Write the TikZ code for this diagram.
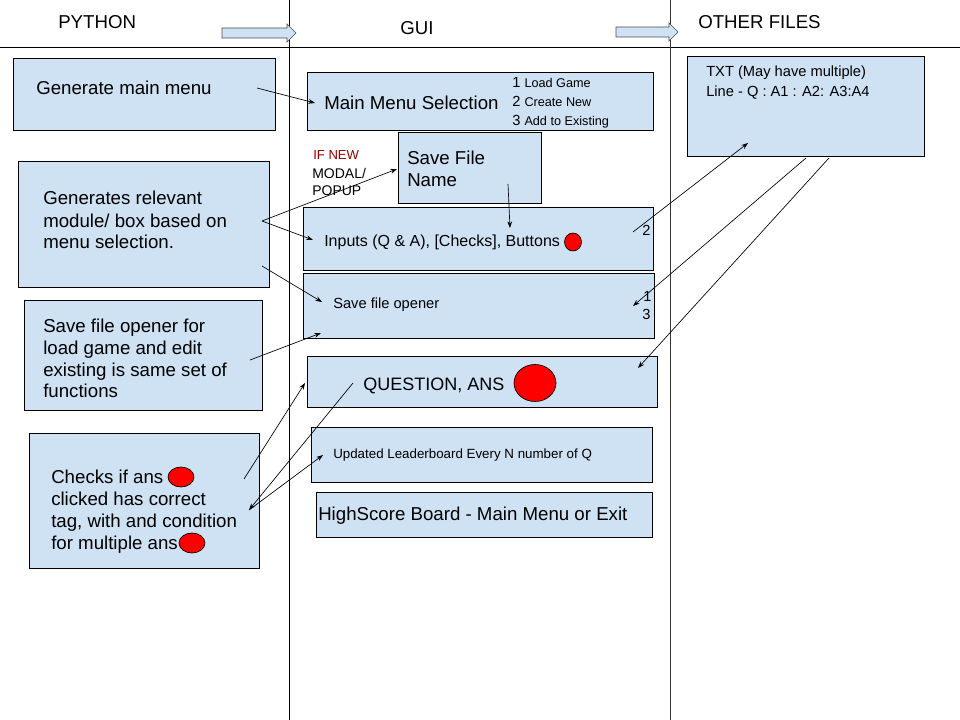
\documentclass[tikz,border=0pt]{standalone}
\usepackage{fontspec}
\setmainfont{Liberation Sans}
\usetikzlibrary{arrows.meta,fit,shapes.geometric}
\definecolor{boxblue}{HTML}{CFE2F3}
\definecolor{ifred}{HTML}{990000}
\newcommand{\fs}[2]{\fontsize{#1}{#2}\selectfont}
\begin{document}
\begin{tikzpicture}[x=0.75pt,y=-0.75pt,
  box/.style={draw=black, line width=0.75pt, fill=boxblue, inner sep=0pt},
  conn/.style={draw=black, line width=0.5pt, -{Stealth[length=5pt,width=3.6pt]}},
  plain/.style={draw=black, line width=0.5pt},
  txt/.style={anchor=base west, inner sep=0pt, align=left},
  dot/.style={ellipse, draw=black, line width=0.5pt, fill=red, inner sep=0pt},
  blockarrow/.style={draw=black!70, line width=0.5pt, fill=boxblue}]
\useasboundingbox (0,0) rectangle (960,720);
\fill[white] (0,0) rectangle (960,720);

% frame lines
\draw[line width=0.75pt] (0,48) -- (960,48);
\draw[line width=0.75pt] (289,0) -- (289,720);
\draw[line width=0.75pt, black!80] (670,0) -- (670,720);

% headers
\node[txt, font=\fs{14}{16}] (hpy) at (58,29) {PYTHON};
\node[txt, font=\fs{14}{16}] (hgui) at (400,35) {GUI};
\node[txt, font=\fs{14}{16}] (hoth) at (698,29) {OTHER FILES};
\path[blockarrow] (222,28) -- (287,28) -- (287,24) -- (296,33) -- (287,42) -- (287,38) -- (222,38) -- cycle;
\path[blockarrow] (616,27) -- (669,27) -- (669,23) -- (678,32) -- (669,41) -- (669,37) -- (616,37) -- cycle;

% left column boxes (multi-line texts: base = last line's baseline)
\node[box, fit={(13,59) (275,131)}] (gen) {};
\node[txt, font=\fs{14}{16.5}] (gent) at (36,94.5) {Generate main menu};
\node[box, fit={(18,162) (269,288)}] (rel) {};
\node[txt, font=\fs{14}{16.5}] (relt) at (43,249) {Generates relevant\\module/ box based on\\menu selection.};
\node[box, fit={(24,301) (262,410)}] (sfo) {};
\node[txt, font=\fs{14}{16.3}] (sfot) at (43,397.9) {Save file opener for\\load game and edit\\existing is same set of\\functions};
\node[box, fit={(29,433) (259,568)}] (chk) {};
\node[txt, font=\fs{14}{16.7}] (chkt) at (51,549.8) {Checks if ans\\clicked has correct\\tag, with and condition\\for multiple ans};
\node[dot, minimum width=26*0.75pt, minimum height=20*0.75pt] (d1) at (181,477) {};
\node[dot, minimum width=26*0.75pt, minimum height=20*0.75pt] (d2) at (192,543) {};

% GUI column boxes
\node[box, fit={(307,73) (653,131)}] (mm) {};
\node[txt, font=\fs{14}{16}] (mmt) at (324,110) {Main Menu Selection};
\node[txt] (o1) at (512,87.3) {\fs{11}{13}1 \fs{9.5}{11}Load Game};
\node[txt] (o2) at (512,106.7) {\fs{11}{13}2 \fs{9.5}{11}Create New};
\node[txt] (o3) at (512,125.7) {\fs{11}{13}3 \fs{9.5}{11}Add to Existing};

\node[box, fit={(398,133) (541,204)}] (sfn) {};
\node[txt, font=\fs{14}{17}] (sfnt) at (407,186.7) {Save File\\Name};

\node[txt, font=\fs{9.8}{12}, text=ifred] (ifnew) at (313,159.3) {IF NEW};
\node[txt, font=\fs{10.5}{12.75}] (modal) at (312,196) {MODAL/\\POPUP};

\node[box, fit={(303,208) (653,271)}] (inp) {};
\node[txt, font=\fs{12}{14}] (inpt) at (324,246.7) {Inputs (Q \& A), [Checks], Buttons};
\node[dot, minimum width=17*0.75pt, minimum height=18*0.75pt] (d3) at (573,242) {};
\node[txt, font=\fs{11}{13}] (n2) at (642,235.7) {2};

\node[box, fit={(303,274) (654,338)}] (sop) {};
\node[txt, font=\fs{11}{13}] (sopt) at (333,308.3) {Save file opener};
\node[txt, font=\fs{11}{13}] (n1) at (643,301.7) {1};
\node[txt, font=\fs{11}{13}] (n3) at (642,319.3) {3};

\node[box, fit={(307,356) (657,407)}] (qa) {};
\node[txt, font=\fs{13.5}{16}] (qat) at (363,390) {QUESTION, ANS};
\node[dot, minimum width=42*0.75pt, minimum height=37*0.75pt] (d4) at (535,383) {};

\node[box, fit={(311,427) (652,482)}] (lb) {};
\node[txt, font=\fs{10}{12}] (lbt) at (333,458.3) {Updated Leaderboard Every N number of Q};

\node[box, fit={(316,492) (652,537)}] (hs) {};
\node[txt, font=\fs{14}{16}] (hst) at (318,520) {HighScore Board - Main Menu or Exit};

% other files
\node[box, fit={(687,57) (924,157)}] (txtf) {};
\node[txt, font=\fs{11}{15}] (txtt) at (706,96.7) {TXT (May have multiple)\\Line - Q : A1 : A2: A3:A4};

% connector end points
\coordinate (a1) at (257,88);   \coordinate (a2) at (315,103);
\coordinate (b0) at (262,221);  \coordinate (b1) at (397,169);  \coordinate (b2) at (313,240);
\coordinate (c1) at (262,266);  \coordinate (c2) at (322,302);
\coordinate (e1) at (250,360);  \coordinate (e2) at (321,333);
\coordinate (f1) at (244,479);  \coordinate (f2) at (305,383);
\coordinate (g1) at (353,383);  \coordinate (g2) at (249,510);
\coordinate (h2) at (323,455);
\coordinate (i1) at (508,184);  \coordinate (i2) at (510,228);
\coordinate (j1) at (633,232);  \coordinate (j2) at (748,143);
\coordinate (k1) at (806,158);  \coordinate (k2) at (633,306);
\coordinate (l1) at (829,158);  \coordinate (l2) at (638,368);

\draw[conn] (a1) -- (a2);
\draw[conn] (b0) -- (b1);
\draw[conn] (b0) -- (b2);
\draw[conn] (c1) -- (c2);
\draw[conn] (e1) -- (e2);
\draw[conn] (f1) -- (f2);
\draw[conn] (g1) -- (g2);
\draw[conn] (g2) -- (h2);
\draw[conn] (i1) -- (i2);
\draw[conn] (j1) -- (j2);
\draw[conn] (k1) -- (k2);
\draw[conn] (l1) -- (l2);
\end{tikzpicture}
\end{document}
